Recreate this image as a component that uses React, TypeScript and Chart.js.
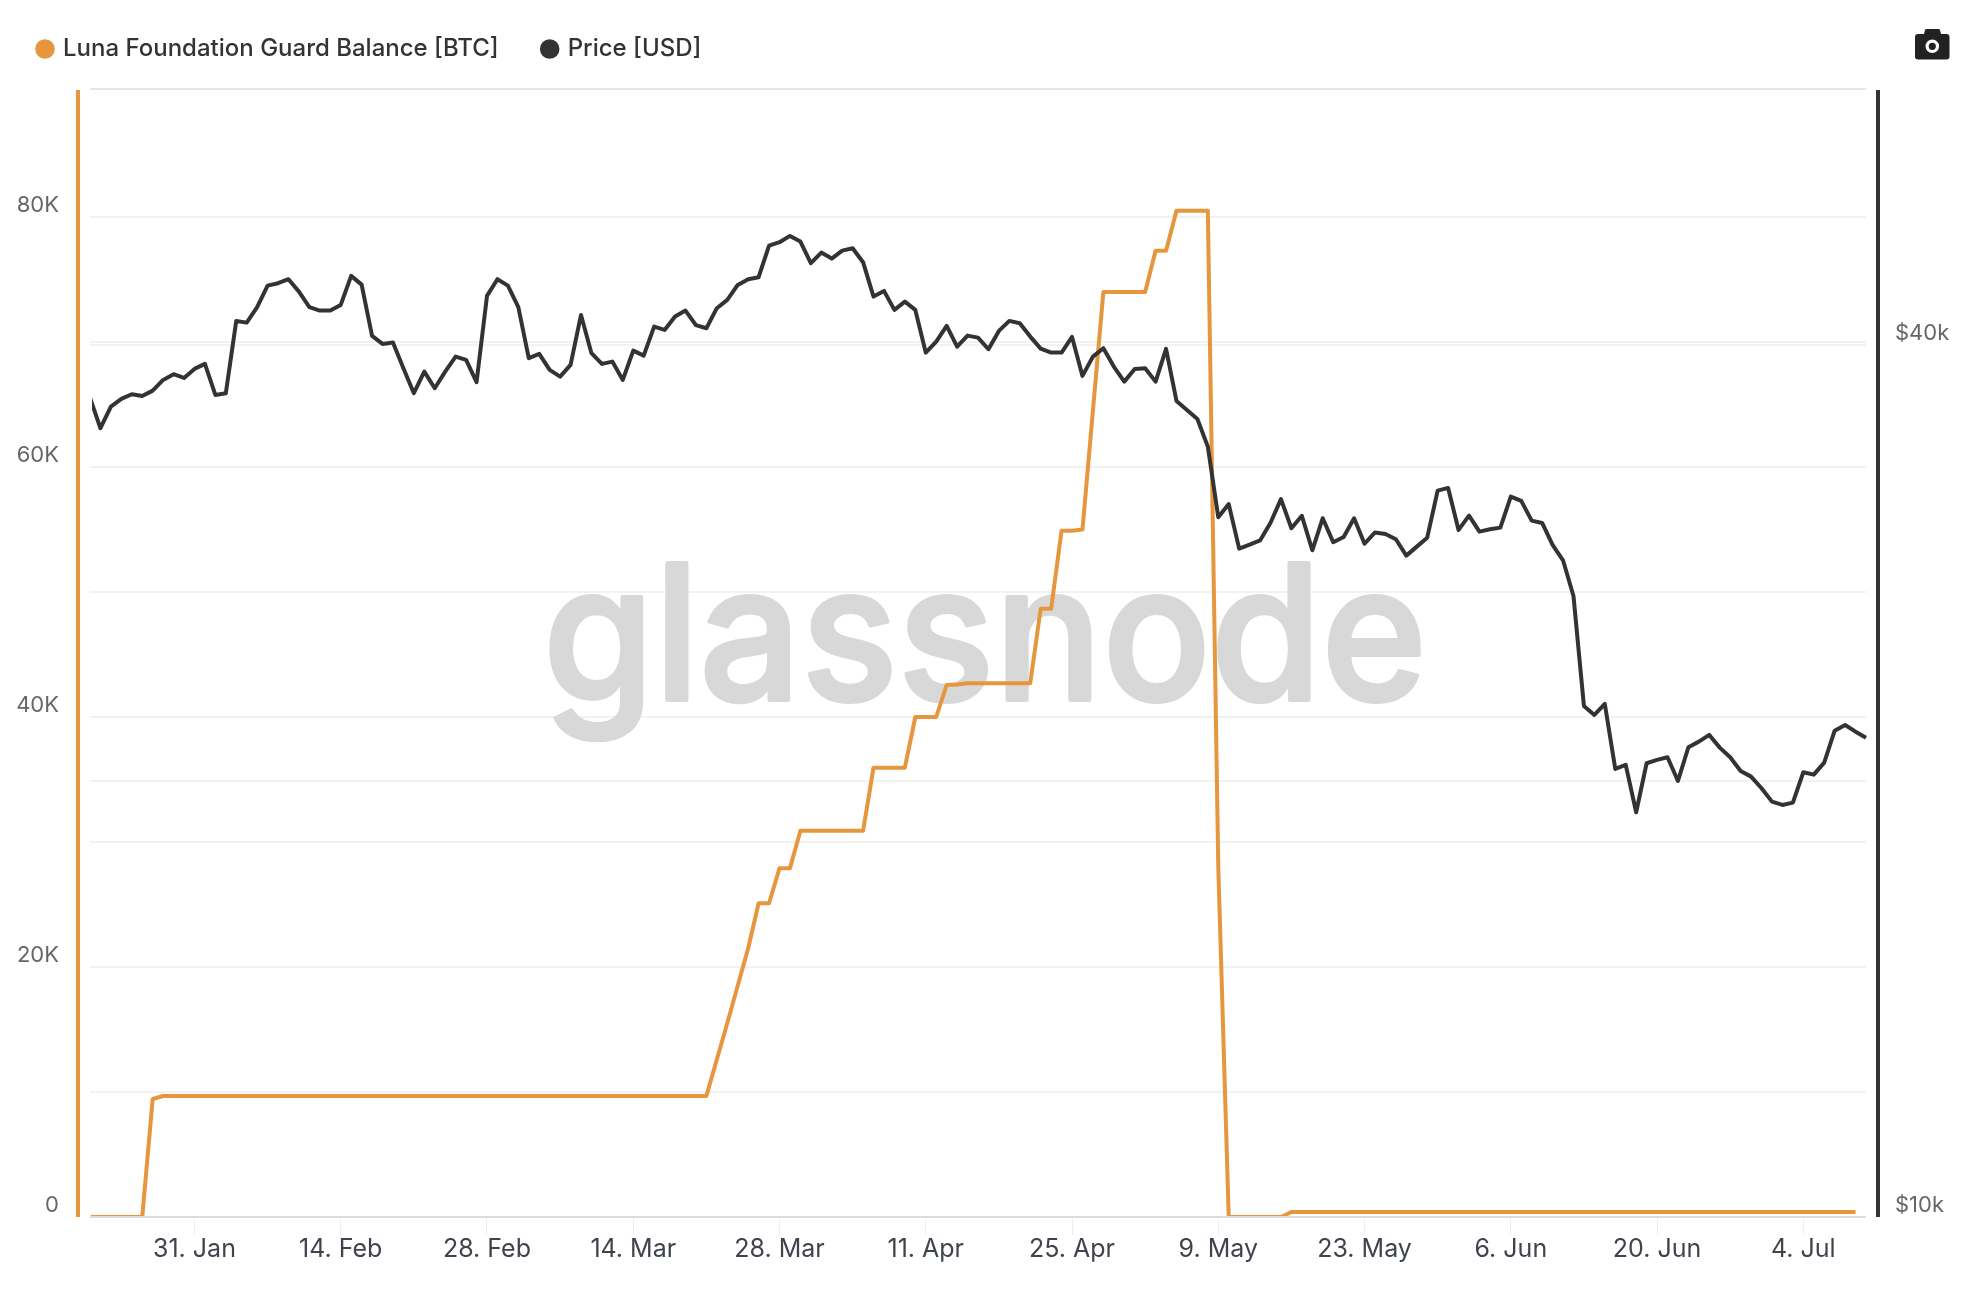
import React, { useEffect, useRef } from "react";
import { Chart, registerables } from "chart.js";

Chart.register(...registerables);

const ORANGE = "#E8963E";
const DARK = "#333333";

const seriesBalanceName = "Luna Foundation Guard Balance [BTC]";
const seriesPriceName = "Price [USD]";

const monthNames = ["Jan", "Feb", "Mar", "Apr", "May", "Jun", "Jul"];
const categories: string[] = [];
for (let d = new Date(Date.UTC(2022, 0, 21)); d <= new Date(Date.UTC(2022, 6, 10)); d = new Date(d.getTime() + 86400000)) {
  categories.push(`${d.getUTCDate()}. ${monthNames[d.getUTCMonth()]}`);
}

const xTickLabels = ["31. Jan", "14. Feb", "28. Feb", "14. Mar", "28. Mar", "11. Apr", "25. Apr", "9. May", "23. May", "6. Jun", "20. Jun", "4. Jul"];
const balanceTicks = [0, 10000, 20000, 30000, 40000, 50000, 60000, 70000, 80000, 90240];
const balanceLabels: Record<number, string> = { 0: "0", 20000: "20K", 40000: "40K", 60000: "60K", 80000: "80K" };
const priceTicks = [10000, 20000, 40000];
const priceLabels: Record<number, string> = { 10000: "$10k", 40000: "$40k" };

const balance: (number | null)[] = [
  0, 0, 0, 0, 0, 0, 9440, 9680, 9680, 9680,
  9680, 9680, 9680, 9680, 9680, 9680, 9680, 9680, 9680, 9680,
  9680, 9680, 9680, 9680, 9680, 9680, 9680, 9680, 9680, 9680,
  9680, 9680, 9680, 9680, 9680, 9680, 9680, 9680, 9680, 9680,
  9680, 9680, 9680, 9680, 9680, 9680, 9680, 9680, 9680, 9680,
  9680, 9680, 9680, 9680, 9680, 9680, 9680, 9680, 9680, 9680,
  12600, 15500, 18500, 21500, 25100, 25100, 27900, 27900, 30900, 30900,
  30900, 30900, 30900, 30900, 30900, 35950, 35950, 35950, 35950, 40000,
  40000, 40000, 42560, 42600, 42700, 42700, 42700, 42700, 42700, 42700,
  42700, 48660, 48660, 54900, 54900, 55000, 64500, 74000, 74000, 74000,
  74000, 74000, 77300, 77300, 80500, 80500, 80500, 80500, 28000, 0,
  0, 0, 0, 0, 0, 400, 400, 400, 400, 400,
  400, 400, 400, 400, 400, 400, 400, 400, 400, 400,
  400, 400, 400, 400, 400, 400, 400, 400, 400, 400,
  400, 400, 400, 400, 400, 400, 400, 400, 400, 400,
  400, 400, 400, 400, 400, 400, 400, 400, 400, 400,
  400, 400, 400, 400, 400, 400, 400, 400, 400, 400,
  null,
];

const price: number[] = [
  36768, 35038, 36263, 36709, 36985, 36885, 37197, 37835, 38180, 37956,
  38502, 38810, 36944, 37043, 41556, 41444, 42471, 43954, 44122, 44404,
  43537, 42471, 42242, 42242, 42626, 44638, 44024, 40577, 40064, 40147,
  38546, 37043, 38338, 37339, 38338, 39263, 39057, 37697, 43240, 44404,
  43954, 42471, 39163, 39432, 38441, 38034, 38748, 41954, 39476, 38810,
  38952, 37835, 39639, 39325, 41181, 40966, 41841, 42242, 41273, 41076,
  42404, 42966, 44004, 44404, 44545, 46841, 47094, 47568, 47139, 45548,
  46322, 45882, 46470, 46647, 45620, 43192, 43586, 42289, 42850, 42289,
  39513, 40210, 41227, 39892, 40596, 40467, 39727, 40900, 41556, 41404,
  40532, 39766, 39513, 39513, 40512, 38076, 39263, 39791, 38644, 37733,
  38502, 38546, 37733, 39747, 36593, 36073, 35560, 34028, 30415, 31057,
  28934, 29118, 29314, 30150, 31304, 29888, 30483, 28860, 30367, 29230,
  29477, 30367, 29160, 29689, 29618, 29371, 28615, 29027, 29444, 31730,
  31866, 29807, 30494, 29726, 29840, 29916, 31428, 31214, 30252, 30141,
  29104, 28404, 26838, 22532, 22212, 22604, 20386, 20516, 19029, 20571,
  20680, 20769, 20000, 21101, 21290, 21518, 21088, 20769, 20321, 20138,
  19770, 19353, 19252, 19322, 20279, 20202, 20591, 21665, 21862, 21630,
  21425,
];

const watermarkPlugin = {
  id: "watermark",
  beforeDatasetsDraw(chart: any) {
    const { ctx, chartArea } = chart;
    const cx = (chartArea.left + chartArea.right) / 2 + 7;
    const by = chartArea.top + 611;
    ctx.save();
    ctx.font = "500 188px Inter";
    ctx.fillStyle = "#d8d8d8";
    ctx.strokeStyle = "#d8d8d8";
    ctx.lineWidth = 4;
    ctx.lineJoin = "round";
    ctx.textAlign = "center";
    ctx.textBaseline = "alphabetic";
    ctx.strokeText("glassnode", cx, by, 884);
    ctx.fillText("glassnode", cx, by, 884);
    ctx.restore();
  },
};

const sideAxesPlugin = {
  id: "sideAxes",
  afterDatasetsDraw(chart: any) {
    const { ctx, chartArea } = chart;
    const h = chartArea.bottom - chartArea.top;
    ctx.save();
    ctx.fillStyle = ORANGE;
    ctx.fillRect(chartArea.left - 14, chartArea.top + 1, 4, h - 1);
    ctx.fillStyle = DARK;
    ctx.fillRect(chartArea.right + 10, chartArea.top + 1, 4, h - 1);
    ctx.restore();
  },
};

const legendFitPlugin = {
  id: "legendFit",
  beforeInit(chart: any) {
    const fit = chart.legend.fit;
    chart.legend.fit = function () {
      fit.call(this);
      this.height = 97;
    };
  },
};

export default function App() {
  const ref = useRef<HTMLCanvasElement>(null);

  useEffect(() => {
    if (!ref.current) return;
    const chart = new Chart(ref.current, {
      type: "line",
      data: {
        labels: categories,
        datasets: [
          {
            label: seriesBalanceName,
            data: balance,
            yAxisID: "y",
            borderColor: ORANGE,
            backgroundColor: ORANGE,
            borderWidth: 4,
            pointRadius: 0,
            tension: 0,
            borderJoinStyle: "round",
            clip: { left: -1, right: 2, top: 2, bottom: -1 },
            order: 2,
          },
          {
            label: seriesPriceName,
            data: price,
            yAxisID: "y1",
            borderColor: DARK,
            backgroundColor: DARK,
            borderWidth: 4,
            pointRadius: 0,
            tension: 0,
            borderJoinStyle: "round",
            clip: { left: -2, right: 2, top: 2, bottom: 2 },
            order: 1,
          },
        ],
      },
      options: {
        responsive: false,
        animation: false,
        devicePixelRatio: 1,
        layout: { padding: { top: -8, left: -6, right: 0, bottom: 0 } },
        plugins: {
          tooltip: { enabled: false },
          legend: {
            position: "top",
            align: "start",
            labels: {
              usePointStyle: true,
              boxWidth: 12,
              boxHeight: 11,
              padding: 45,
              color: "#333333",
              sort: (a: any, b: any) => a.datasetIndex - b.datasetIndex,
              font: { family: "Inter", size: 24, weight: "500" },
            },
          },
        },
        scales: {
          x: {
            type: "category",
            afterBuildTicks(scale: any) {
              scale.ticks = xTickLabels.map((l) => ({ value: categories.indexOf(l) }));
            },
            afterFit(scale: any) {
              scale.height = 83;
            },
            grid: { drawOnChartArea: false, drawTicks: true, tickLength: 18, tickColor: "#eeeeee", tickWidth: 1 },
            border: { display: false },
            ticks: {
              autoSkip: false,
              maxRotation: 0,
              minRotation: 0,
              padding: -1,
              color: "#3f444c",
              font: { family: "Inter", size: 25 },
              callback(v: any) {
                return categories[v];
              },
            },
          },
          y: {
            type: "linear",
            position: "left",
            min: 0,
            max: 90240,
            afterBuildTicks(scale: any) {
              scale.ticks = balanceTicks.map((value) => ({ value }));
            },
            afterFit(scale: any) {
              scale.width = 96;
            },
            border: { display: false },
            grid: {
              drawTicks: false,
              lineWidth: 2,
              color(ctx: any) {
                const v = ctx.tick?.value;
                if (v === 0) return "#dcdcdc";
                if (v === 90240) return "#e6e6e6";
                return "#f2f2f2";
              },
            },
            ticks: {
              padding: 31,
              labelOffset: -12,
              color: "#666666",
              font: { family: "Inter", size: 22 },
              callback(v: any) {
                return balanceLabels[v] ?? "";
              },
            },
          },
          y1: {
            type: "logarithmic",
            position: "right",
            min: 10000,
            max: 60080,
            afterBuildTicks(scale: any) {
              scale.ticks = priceTicks.map((value) => ({ value }));
            },
            afterFit(scale: any) {
              scale.width = 106;
            },
            border: { display: false },
            grid: {
              drawTicks: false,
              lineWidth: 2,
              color(ctx: any) {
                return ctx.tick?.value === 10000 ? "#dcdcdc" : "#f2f2f2";
              },
            },
            ticks: {
              padding: 29,
              labelOffset: -12,
              color: "#666666",
              font: { family: "Inter", size: 22 },
              callback(v: any) {
                return priceLabels[v] ?? "";
              },
            },
          },
        },
      },
      plugins: [legendFitPlugin, watermarkPlugin, sideAxesPlugin],
    } as any);
    return () => chart.destroy();
  }, []);

  return (
    <div style={{ position: "absolute", left: 0, top: 0, width: 1972, height: 1300, background: "#fff" }}>
      <canvas ref={ref} width={1972} height={1300} style={{ display: "block", width: 1972, height: 1300 }} />
      <svg
        style={{ position: "absolute", left: 1915, top: 29 }}
        width={35}
        height={31}
        viewBox="0 0 35 31"
        aria-label="camera"
      >
        <path
          d="M9 5 L10 1 Q10.3 0 11.5 0 H23.5 Q24.7 0 25 1 L26 5 H31.5 Q34.5 5 34.5 8 V27.5 Q34.5 30.5 31.5 30.5 H3 Q0 30.5 0 27.5 V8 Q0 5 3 5 Z"
          fill="#222222"
        />
        <circle cx="17.3" cy="17.3" r="5.2" fill="none" stroke="#ffffff" strokeWidth="3.2" />
      </svg>
    </div>
  );
}
